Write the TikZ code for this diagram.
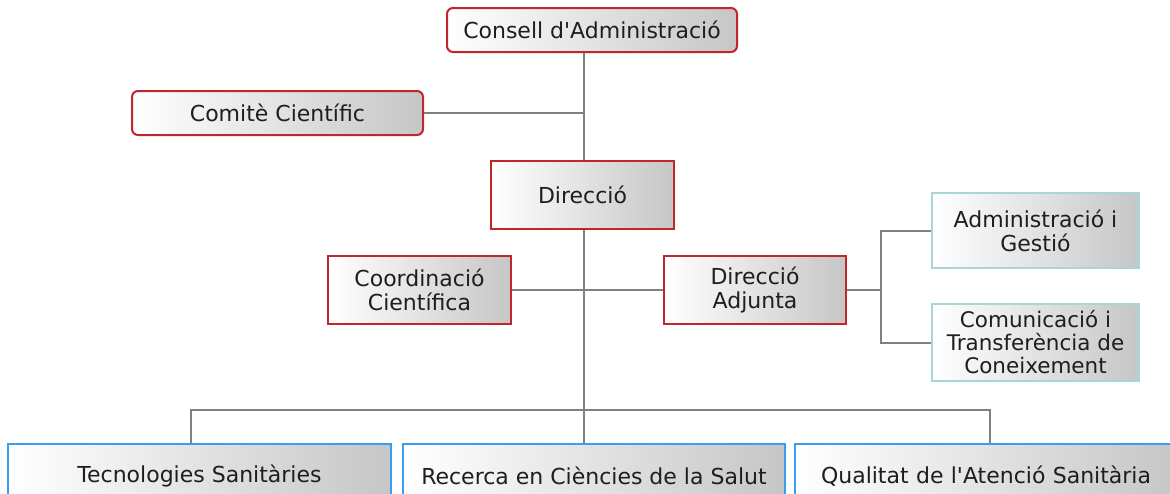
\documentclass[tikz,border=0pt]{standalone}
\usepackage{fontspec}
\setmainfont{DejaVu Sans}[Ligatures=TeXOff]
\definecolor{redb}{HTML}{C0272D}
\definecolor{blueb}{HTML}{3A9EF0}
\definecolor{tealb}{HTML}{A6D6D6}
\definecolor{linec}{HTML}{808080}
\definecolor{midc}{HTML}{E4EAEA}
\definecolor{endc}{HTML}{C6C6C6}
\definecolor{txt}{HTML}{1E1E1E}
\tikzset{
  boxbase/.style={draw, line width=2pt, left color=white, middle color=midc, right color=endc,
    inner sep=0pt, align=center, text=txt,
    font=\fontsize{22}{24}\selectfont},
  redbox/.style={boxbase, draw=redb},
  roundbox/.style={redbox, rounded corners=6pt},
  tealbox/.style={boxbase, draw=tealb},
  bluebox/.style={boxbase, draw=blueb},
  conn/.style={draw=linec, line width=2pt}
}
\begin{document}
\begin{tikzpicture}[x=1pt,y=-1pt]
\useasboundingbox (0,0) rectangle (1170,493);
\clip (0,0) rectangle (1170,493);
\fill[white] (0,0) rectangle (1170,493);
\coordinate (spine) at (584,0);
\coordinate (rb) at (881,0);
\coordinate (bar) at (0,410);
\coordinate (tx) at (191,0);
\coordinate (qx) at (990,0);

\node[roundbox, minimum width=290pt, minimum height=44pt] (consell) at (592,30) {Consell d'Administració};
\node[roundbox, minimum width=291pt, minimum height=44pt] (comite) at (277.5,113) {Comitè Científic};
\node[redbox, minimum width=183pt, minimum height=68pt] (direccio) at (582.5,195) {Direcció};
\node[redbox, minimum width=183pt, minimum height=68pt] (coord) at (419.5,290) {Coordinació\\Científica};
\node[redbox, minimum width=182pt, minimum height=68pt] (adjunta) at (755,290) {Direcció\\Adjunta};
\node[tealbox, minimum width=207pt, minimum height=75pt] (admin) at (1035.5,230.5) {Administració i\\Gestió};
\node[tealbox, minimum width=207pt, minimum height=77pt, font=\fontsize{21.5}{23}\selectfont] (comun) at (1035.5,342.5) {Comunicació i\\Transferència de\\Coneixement};
\node[bluebox, minimum width=383pt, minimum height=64pt] (tecno) at (199.5,476) {Tecnologies Sanitàries};
\node[bluebox, minimum width=382pt, minimum height=64pt] (recerca) at (594,476) {Recerca en Ciències de la Salut};
\node[bluebox, minimum width=380pt, minimum height=64pt, text width=380pt, align=left] (qualitat) at (985,476) {\hspace*{26pt}Qualitat de l'Atenció Sanitària};

\draw[conn] (spine |- consell.south) -- (spine |- direccio.north);
\draw[conn] (comite.east) -- (comite.east -| spine);
\draw[conn] (spine |- direccio.south) -- (spine |- bar);
\draw[conn] (coord.east) -- (adjunta.west);
\draw[conn] (adjunta.east) -- (adjunta.east -| rb);
\draw[conn] (admin.west) -- (admin.west -| rb) -- (comun.west -| rb) -- (comun.west);
\draw[conn] (tx |- tecno.north) -- (tx |- bar) -- (qx |- bar) -- (qx |- qualitat.north);
\draw[conn] (spine |- bar) -- (spine |- recerca.north);
\end{tikzpicture}
\end{document}
